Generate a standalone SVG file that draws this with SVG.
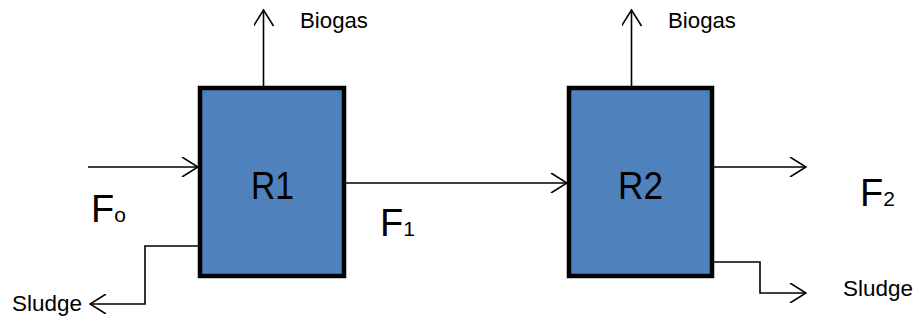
<svg xmlns="http://www.w3.org/2000/svg" width="919" height="324" viewBox="0 0 919 324">
<style>
.box{fill:#4F81BD;stroke:#000;stroke-width:4.5}
.ln{fill:none;stroke:#000;stroke-width:1.6}
.t{font-family:"Liberation Sans",Arial,sans-serif;fill:#000}
.big{font-size:38px}
.sub{font-size:21px}
.sm{font-size:22px}
</style>
<defs>
<marker id="ah" viewBox="-17 -10 18 20" refX="0" refY="0" markerWidth="18" markerHeight="20" markerUnits="userSpaceOnUse" orient="auto">
<path d="M-16,-10 L0,0 L-16,10" fill="none" stroke="#000" stroke-width="1.6"/>
</marker>
</defs>
<rect width="919" height="324" fill="#fff"/>
<g id="connectors">
<line class="ln" x1="88" y1="167" x2="198" y2="167" marker-end="url(#ah)"/>
<line class="ln" x1="263.5" y1="86" x2="263.5" y2="10" marker-end="url(#ah)"/>
<polyline class="ln" points="198,246 145,246 145,304 90,304" marker-end="url(#ah)"/>
<line class="ln" x1="346" y1="183" x2="567" y2="183" marker-end="url(#ah)"/>
<line class="ln" x1="631.5" y1="86" x2="631.5" y2="10" marker-end="url(#ah)"/>
<line class="ln" x1="714" y1="167" x2="806" y2="167" marker-end="url(#ah)"/>
<polyline class="ln" points="714,262 760,262 760,293 806,293" marker-end="url(#ah)"/>
</g>
<g id="R1">
<rect class="box" x="200" y="88" width="144" height="188"/>
<text class="t big" x="251" y="199" textLength="43" lengthAdjust="spacingAndGlyphs">R1</text>
</g>
<g id="R2">
<rect class="box" x="569" y="88" width="143" height="188"/>
<text class="t big" x="618" y="199" textLength="45" lengthAdjust="spacingAndGlyphs">R2</text>
</g>
<g id="labels">
<text class="t sm" x="300" y="28" textLength="68" lengthAdjust="spacingAndGlyphs">Biogas</text>
<text class="t sm" x="668" y="28" textLength="68" lengthAdjust="spacingAndGlyphs">Biogas</text>
<text class="t sm" x="12" y="311" textLength="70" lengthAdjust="spacingAndGlyphs">Sludge</text>
<text class="t sm" x="843" y="296" textLength="70" lengthAdjust="spacingAndGlyphs">Sludge</text>
<text class="t big" x="91" y="222">F<tspan class="sub">o</tspan></text>
<text class="t big" x="380" y="236">F<tspan class="sub">1</tspan></text>
<text class="t big" x="860" y="206">F<tspan class="sub">2</tspan></text>
</g>
</svg>
